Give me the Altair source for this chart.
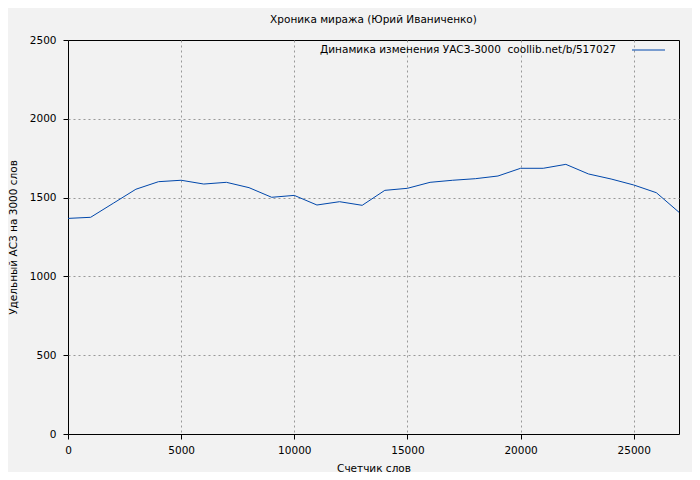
import altair as alt
import pandas as pd

words = [0, 1000, 2000, 3000, 4000, 5000, 6000, 7000, 8000, 9000, 10000, 11000, 12000, 13000,
         14000, 15000, 16000, 17000, 18000, 19000, 20000, 21000, 22000, 23000, 24000, 25000, 26000, 27000]
asz = [1368, 1375, 1464, 1553, 1601, 1610, 1586, 1597, 1563, 1502, 1514, 1453, 1474, 1451,
       1546, 1559, 1597, 1610, 1620, 1637, 1686, 1686, 1711, 1650, 1618, 1580, 1531, 1407]
series_name = "Динамика изменения УАСЗ-3000\u00a0\u00a0coollib.net/b/517027"
title_text = "Хроника миража (Юрий Иваниченко)"
x_title = "Счетчик слов"
y_title = "Удельный АСЗ на 3000 слов"
x_ticks = [0, 5000, 10000, 15000, 20000, 25000]
y_ticks = [0, 500, 1000, 1500, 2000, 2500]

df = pd.DataFrame({"words": words, "asz": asz})

FONT = "DejaVu Sans"
FS = 10.5
LINE_COLOR = "#0047ab"

x_enc = alt.X("words:Q", scale=alt.Scale(domain=[0, 27000], nice=False),
              axis=alt.Axis(values=x_ticks, title=x_title, format="d", labelFlush=False,
                            titleX=305.5, titleY=34, titleBaseline="middle", titleAlign="center",
                            gridOpacity={"condition": {"test": "datum.value == 0 || datum.value == 27000",
                                                       "value": 0}, "value": 1}))
y_enc = alt.Y("asz:Q", scale=alt.Scale(domain=[0, 2500], nice=False),
              axis=alt.Axis(values=y_ticks, title=y_title, format="d", labelFlush=False,
                            titleX=-55, titleY=197, titleBaseline="middle", titleAlign="center",
                            titleAngle=270,
                            gridOpacity={"condition": {"test": "datum.value == 0 || datum.value == 2500",
                                                       "value": 0}, "value": 1}))

line = alt.Chart(df).mark_line(color=LINE_COLOR, strokeWidth=1).encode(x=x_enc, y=y_enc)

legend_text = alt.Chart(pd.DataFrame({"t": [series_name]})).mark_text(
    align="right", baseline="middle", font=FONT, fontSize=FS, color="#000000"
).encode(x=alt.value(548), y=alt.value(10), text="t:N")

legend_line = alt.Chart(pd.DataFrame({"t": [series_name]})).mark_rule(
    color=LINE_COLOR, strokeWidth=1
).encode(x=alt.value(564), x2=alt.value(597), y=alt.value(10))

chart = alt.layer(line, legend_text, legend_line).properties(
    width=611, height=394,
    title=alt.TitleParams(title_text, font=FONT, fontSize=FS, fontWeight="normal",
                          color="#000000", offset=10),
    background="#f2f2f2",
    autosize=alt.AutoSizeParams(type="none"),
    padding={"left": 60, "top": 32, "right": 13, "bottom": 38},
).configure_view(
    stroke="#000000", strokeWidth=1, fill="#f2f2f2"
).configure_axis(
    labelFont=FONT, titleFont=FONT, labelFontSize=FS, titleFontSize=FS,
    titleFontWeight="normal", labelColor="#000000", titleColor="#000000",
    domain=False, tickColor="#000000", tickSize=5,
    grid=True, gridColor="#999999", gridDash=[2, 3], gridWidth=1,
).configure_axisX(
    labelPadding=6,
).configure_axisY(
    labelPadding=7,
)

chart.save("out.html", embed_options={"renderer": "svg", "actions": False})
